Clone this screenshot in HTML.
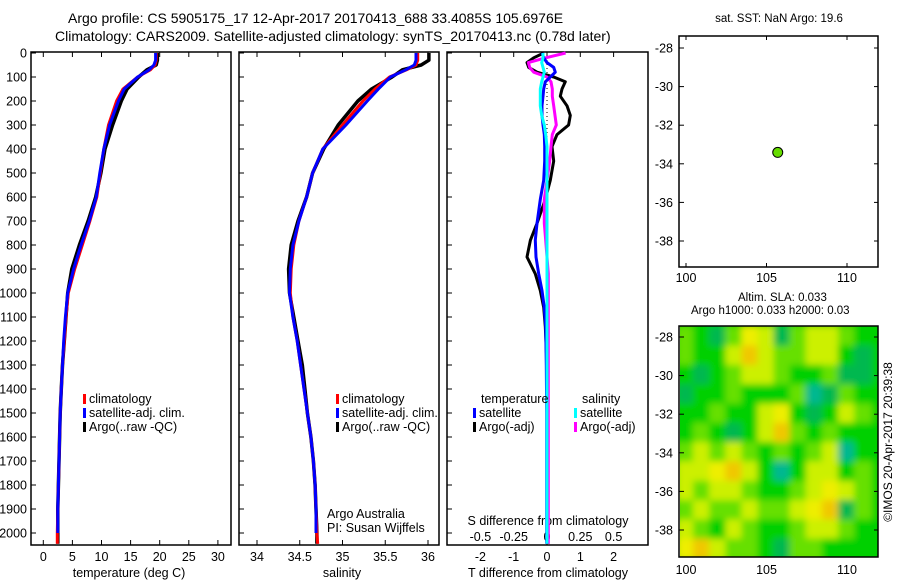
<!DOCTYPE html>
<html><head><meta charset="utf-8">
<style>
html,body{margin:0;padding:0;background:#fff;}
svg{display:block;font-family:"Liberation Sans",sans-serif;}
text{font-size:12.5px;fill:#000;}
</style></head>
<body>
<svg id="c" width="900" height="580" viewBox="0 0 900 580" xmlns="http://www.w3.org/2000/svg">
<defs>
<clipPath id="clipMap"><rect x="680" y="326" width="198" height="231"/></clipPath>
<filter id="blur" x="-5%" y="-5%" width="110%" height="110%"><feGaussianBlur stdDeviation="3.5"/></filter>
</defs>
<text x="68" y="23" style="font-size:14px">Argo profile: CS 5905175_17 12-Apr-2017 20170413_688 33.4085S 105.6976E</text>
<text x="55" y="41" style="font-size:14px">Climatology: CARS2009. Satellite-adjusted climatology: synTS_20170413.nc (0.78d later)</text>
<g id="g"></g>
</svg>
<script>
// ---------- DATA ----------
const depths      = [0,30,50,70,100,150,200,300,400,500,600,700,800,900,1000,1100,1200,1300,1400,1500,1600,1700,1800,1900,2000,2045];
const tempClim    = [19.4,19.4,19.2,18.4,16.2,13.7,12.6,11.2,10.4,9.8,9.2,8.0,6.7,5.4,4.3,3.9,3.6,3.3,3.1,2.9,2.8,2.7,2.6,2.5,2.4,2.4];
const tempSat     = [19.3,19.3,19.0,18.2,16.2,13.9,12.9,11.4,10.4,9.7,9.1,7.9,6.5,5.2,4.2,3.8,3.5,3.3,3.1,2.9,2.8,2.7,2.6,2.5,2.5,2.5];
const tempArgo    = [19.6,19.6,19.4,17.8,16.4,14.4,13.4,11.9,10.6,9.9,9.0,7.7,6.2,4.9,4.2,3.9,3.6,3.3,3.1,2.9,2.8,2.7,2.6,2.5,2.5,2.5];
const salClim     = [35.88,35.88,35.86,35.75,35.55,35.38,35.24,35.00,34.77,34.65,34.58,34.49,34.43,34.40,34.39,34.42,34.47,34.51,34.55,34.59,34.63,34.66,34.68,34.69,34.70,34.71];
const salSat      = [35.86,35.86,35.84,35.74,35.56,35.42,35.29,35.04,34.77,34.65,34.58,34.49,34.42,34.39,34.38,34.42,34.47,34.51,34.55,34.59,34.63,34.66,34.68,34.69,34.69,34.69];
const salArgo     = [36.01,36.01,35.92,35.70,35.58,35.34,35.18,34.95,34.78,34.65,34.58,34.48,34.40,34.37,34.38,34.43,34.48,34.53,34.56,34.59,34.63,34.66,34.68,34.69,34.70,34.70];
const diffDepths  = [0,20,40,60,80,100,120,150,180,220,260,300,340,390,450,530,610,710,780,850,920,990,1060,1140,1300,1500,1700,1900,2045];
const tDiffArgo   = [-0.1,-0.4,-0.6,-0.55,-0.3,0.2,0.55,0.45,0.4,0.6,0.7,0.65,0.3,0.15,0.2,0.1,-0.05,-0.3,-0.5,-0.6,-0.35,-0.2,-0.1,-0.05,0.0,0.02,0.03,0.03,0.03];
const tDiffSat    = [-0.15,-0.1,0.0,0.2,0.25,0.1,-0.05,-0.1,-0.12,-0.15,-0.15,-0.12,-0.08,-0.07,-0.07,-0.1,-0.2,-0.3,-0.35,-0.33,-0.25,-0.15,-0.08,-0.04,-0.02,-0.01,-0.01,-0.01,-0.01];
const sDiffArgo   = [0.14,-0.01,-0.14,-0.13,-0.1,0.0,0.03,0.04,0.04,0.05,0.06,0.07,0.04,0.03,0.02,0.0,-0.02,-0.02,-0.01,0.0,0.01,0.01,0.01,0.01,0.01,0.01,0.01,0.01,0.01];
const sDiffSat    = [-0.03,-0.03,-0.04,-0.03,-0.02,-0.03,-0.04,-0.05,-0.05,-0.05,-0.04,-0.02,-0.01,0.0,0.0,0.0,0.0,0.0,0.0,0.0,0.0,0.0,0.0,0.0,0.0,0.0,0.0,0.0,0.0];
const depthTicks  = [0,100,200,300,400,500,600,700,800,900,1000,1100,1200,1300,1400,1500,1600,1700,1800,1900,2000];
const tempTicks   = [0,5,10,15,20,25,30];
const salTicks    = [34,34.5,35,35.5,36];
const tDiffTicks  = [-2,-1,0,1,2];
const sDiffTicks  = [-0.5,-0.25,0,0.25,0.5];
const lonTicks    = [100,105,110];
const latTicks    = [-28,-30,-32,-34,-36,-38];
const argoLon     = 105.6976;
const argoLat     = -33.4085;
const slaLons     = [100,101,102,103,104,105,106,107,108,109,110,111];
const slaLats     = [-28,-29,-30,-31,-32,-33,-34,-35,-36,-37,-38,-39];
const slaGrid     = [
 [3,2,1,3,5,4,1,3,4,4,3,2],
 [3,2,2,4,6,4,3,3,4,4,2,1],
 [2,1,2,3,4,4,3,2,2,3,1,1],
 [1,2,2,3,2,2,2,3,0,1,3,2],
 [2,2,3,2,2,4,5,2,1,2,4,3],
 [2,3,2,1,2,4,6,3,2,3,2,2],
 [3,4,3,4,3,2,3,2,3,4,0,2],
 [4,4,5,6,4,2,0,2,4,4,2,3],
 [4,3,4,4,3,2,2,3,4,5,4,3],
 [3,4,3,3,4,3,3,4,5,6,1,3],
 [4,3,2,4,3,2,2,3,4,4,3,2],
 [5,6,4,3,3,2,1,3,3,2,2,2]];

// ---------- AXES ----------
const NS='http://www.w3.org/2000/svg';
const G=document.getElementById('g');
function mk(tag,attrs,parent){const e=document.createElementNS(NS,tag);for(const k in attrs)e.setAttribute(k,attrs[k]);(parent||G).appendChild(e);return e;}
const yDepth=d=>53+0.24*d;
const xTemp=t=>43.3+5.82*t;
const xSal=s=>257+85.5*(s-34);
const xTD=t=>547+33.3*t;
const xSD=s=>547+133.2*s;
const xLon=l=>686+16.1*(l-100);
const yLatTop=l=>48+19.3*(-28-l);
const yLatBot=l=>337+19.3*(-28-l);
const PT=52,PB=545;

function frame(x0,x1,y0,y1,name){
  const r=mk('rect',{x:x0,y:y0,width:x1-x0,height:y1-y0,fill:'none',stroke:'#000','stroke-width':1.5});
  
  
}
function txt(x,y,s,anchor,name,extra){
  const t=mk('text',Object.assign({x:x,y:y,'text-anchor':anchor||'start'},extra||{}));
  t.textContent=s;
  
  
  return t;
}
function line(pts,color,w,name,dash){
  const p=mk('polyline',{points:pts.map(q=>q[0].toFixed(1)+','+q[1].toFixed(1)).join(' '),fill:'none',stroke:color,'stroke-width':w,'stroke-linejoin':'round'});
  if(dash)p.setAttribute('stroke-dasharray',dash);
  
  
}

frame(31,231,PT,PB,'temperature-panel-frame');
frame(239,439,PT,PB,'salinity-panel-frame');
frame(447,648,PT,PB,'difference-panel-frame');

depthTicks.forEach(d=>{
  const y=yDepth(d);
  txt(27,y+4.5,String(d),'end','depth-tick-label');
  [31,239,447].forEach(x=>{mk('line',{x1:x,y1:y,x2:x+5,y2:y,stroke:'#000','stroke-width':1});});
});
tempTicks.forEach(t=>{const x=xTemp(t);
  mk('line',{x1:x,y1:PB,x2:x,y2:PB-5,stroke:'#000'});mk('line',{x1:x,y1:PT,x2:x,y2:PT+5,stroke:'#000'});
  txt(x,561,String(t),'middle','temperature-tick-label');});
txt(129,577,'temperature (deg C)','middle','x-axis-title-temperature');
salTicks.forEach(s=>{const x=xSal(s);
  mk('line',{x1:x,y1:PB,x2:x,y2:PB-5,stroke:'#000'});mk('line',{x1:x,y1:PT,x2:x,y2:PT+5,stroke:'#000'});
  txt(x,561,String(s),'middle','salinity-tick-label');});
txt(342,577,'salinity','middle','x-axis-title-salinity');
tDiffTicks.forEach(t=>{const x=xTD(t);
  mk('line',{x1:x,y1:PT,x2:x,y2:PT+5,stroke:'#000'});
  txt(x,561,String(t),'middle','t-diff-tick-label');});
sDiffTicks.forEach(s=>{const x=xSD(s);
  txt(x,541,String(s),'middle','s-diff-tick-label');});
txt(548,525,'S difference from climatology','middle','s-diff-axis-title');
txt(548,577,'T difference from climatology','middle','t-diff-axis-title');

line([[xTD(0),PT],[xTD(0),PB]],'#000',1,'zero-line','1,3');

line(depths.map((d,i)=>[xTemp(tempArgo[i]),yDepth(d)]),'#000',3.5,'temperature-argo-line');
line(depths.map((d,i)=>[xTemp(tempClim[i]),yDepth(d)]),'#f00',3,'temperature-climatology-line');
line(depths.slice(0,-1).map((d,i)=>[xTemp(tempSat[i]),yDepth(d)]),'#00f',3,'temperature-satellite-line');
line(depths.map((d,i)=>[xSal(salArgo[i]),yDepth(d)]),'#000',3.5,'salinity-argo-line');
line(depths.map((d,i)=>[xSal(salClim[i]),yDepth(d)]),'#f00',3,'salinity-climatology-line');
line(depths.slice(0,-1).map((d,i)=>[xSal(salSat[i]),yDepth(d)]),'#00f',3,'salinity-satellite-line');

line(diffDepths.map((d,i)=>[xTD(tDiffArgo[i]),yDepth(d)]),'#000',3,'t-diff-argo-line');
line(diffDepths.map((d,i)=>[xSD(sDiffArgo[i]),yDepth(d)]),'#f0f',3,'s-diff-argo-line');
line(diffDepths.map((d,i)=>[xTD(tDiffSat[i]),yDepth(d)]),'#00f',3,'t-diff-satellite-line');
line(diffDepths.map((d,i)=>[xSD(sDiffSat[i]),yDepth(d)]),'#0ff',3,'s-diff-satellite-line');

function leg(x,y,color,label,name){
  const r=mk('rect',{x:x,y:y-9,width:3,height:10,fill:color});
  
  
  txt(x+6,y,label,'start',name);
}
[['#f00','climatology'],['#00f','satellite-adj. clim.'],['#000','Argo(..raw -QC)']].forEach((e,i)=>{
  leg(83,403+i*14,e[0],e[1],'legend-entry');
  leg(336,403+i*14,e[0],e[1],'legend-entry');
});
txt(481,403,'temperature','start','legend-title-temperature');
txt(582,403,'salinity','start','legend-title-salinity');
leg(473,417,'#00f','satellite','legend-entry');
leg(473,431,'#000','Argo(-adj)','legend-entry');
leg(574,417,'#0ff','satellite','legend-entry');
leg(574,431,'#f0f','Argo(-adj)','legend-entry');
txt(327,518,'Argo Australia','start','credit-argo-australia');
txt(327,532,'PI: Susan Wijffels','start','credit-pi');

txt(779,22,'sat. SST: NaN Argo: 19.6','middle','map-sst-title',{style:'font-size:11.5px'});
frame(679,878,36,267,'location-map-frame');
lonTicks.forEach(l=>{const x=xLon(l);
  mk('line',{x1:x,y1:267,x2:x,y2:263,stroke:'#000'});mk('line',{x1:x,y1:36,x2:x,y2:40,stroke:'#000'});
  txt(x,282,String(l),'middle','map-lon-tick-label');
  mk('line',{x1:x,y1:557,x2:x,y2:553,stroke:'#000'});mk('line',{x1:x,y1:326,x2:x,y2:330,stroke:'#000'});
  txt(x,574,String(l),'middle','sla-lon-tick-label');});
latTicks.forEach(l=>{
  const y=yLatTop(l);
  mk('line',{x1:679,y1:y,x2:684,y2:y,stroke:'#000'});mk('line',{x1:878,y1:y,x2:874,y2:y,stroke:'#000'});
  txt(673,y+4.5,String(l),'end','map-lat-tick-label');
});
const dot=mk('circle',{cx:xLon(argoLon),cy:yLatTop(argoLat),r:5,fill:'#66dd00',stroke:'#000','stroke-width':1});



txt(738,301,'Altim. SLA: 0.033','start','sla-title-line-1',{style:'font-size:11.5px'});
txt(691,314,'Argo h1000: 0.033 h2000: 0.03','start','sla-title-line-2',{style:'font-size:11.5px'});
const pal=['#00b890','#00b850','#00d000','#66e000','#ccf000','#eeee00','#f0c800'];
const hg=mk('g',{'clip-path':'url(#clipMap)'});
const inner=mk('g',{filter:'url(#blur)'},hg);
mk('rect',{x:670,y:316,width:220,height:250,fill:'#00d000'},inner);
slaLats.forEach((la,r)=>slaLons.forEach((lo,c)=>{
  const cell=mk('rect',{x:(xLon(lo-0.5)-1).toFixed(1),y:(yLatBot(la+0.5)-1).toFixed(1),width:18.1,height:21.3,fill:pal[slaGrid[r][c]]},inner);
  
  
}));
frame(679,878,326,557,'sla-map-frame');
latTicks.forEach(l=>{
  const y=yLatBot(l);
  mk('line',{x1:679,y1:y,x2:684,y2:y,stroke:'#000'});mk('line',{x1:878,y1:y,x2:874,y2:y,stroke:'#000'});
  txt(673,y+4.5,String(l),'end','sla-lat-tick-label');
});
txt(0,0,'©IMOS 20-Apr-2017 20:39:38','middle','imos-timestamp',{transform:'translate(892,442) rotate(-90)',style:'font-size:12px'});
</script>
</body></html>
